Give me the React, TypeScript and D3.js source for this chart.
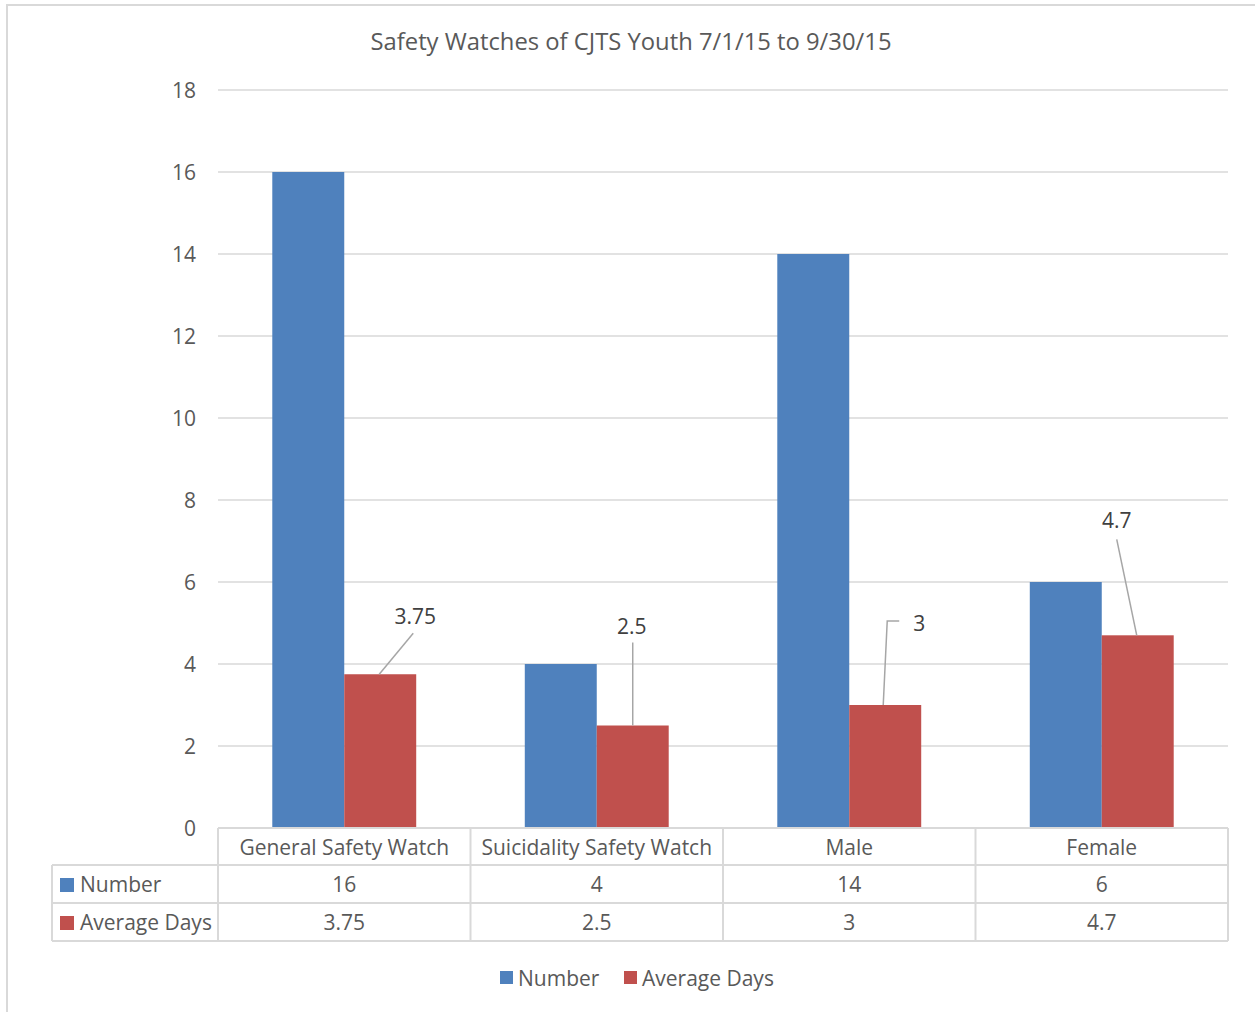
import React from "react";
import * as d3 from "d3";

const title = "Safety Watches of CJTS Youth 7/1/15 to 9/30/15";
const categories = ["General Safety Watch", "Suicidality Safety Watch", "Male", "Female"];
const seriesNames = ["Number", "Average Days"];
const numberValues = [16, 4, 14, 6];
const averageDaysValues = [3.75, 2.5, 3, 4.7];
const tableNumberLabels = ["16", "4", "14", "6"];
const tableAvgLabels = ["3.75", "2.5", "3", "4.7"];
const yTicks = [0, 2, 4, 6, 8, 10, 12, 14, 16, 18];
const colors = ["#4F81BD", "#C0504D"];

const FONT = "'Open Sans', 'Noto Sans', sans-serif";

export default function App() {
  const W = 1255, H = 1012;
  const left = 218, right = 1228, top = 90, bottom = 828;
  const y = d3.scaleLinear().domain([0, 18]).range([bottom, top]);
  const x0 = d3.scaleBand().domain(categories).range([left, right]).paddingInner(0).paddingOuter(0);
  const bw = x0.bandwidth();
  const barW = bw * 0.285;
  const tableLeft = 52;
  const rows = [bottom, bottom + 37, bottom + 75, bottom + 113];
  const fs = 21;

  return (
    <svg width={W} height={H} style={{ position: "absolute", left: 0, top: 0, background: "#fff" }} fontFamily={FONT}>
      <rect x={7} y={5} width={W + 10} height={H + 10} fill="#fff" stroke="#d9d9d9" strokeWidth={2} />
      <text x={631} y={50} textAnchor="middle" fontSize={23.8} fill="#595959">{title}</text>
      {yTicks.map((t) => (
        <g key={t}>
          <line x1={left} x2={right} y1={y(t)} y2={y(t)} stroke="#d9d9d9" strokeWidth={1.5} />
          <text x={196} y={y(t) + 7.5} textAnchor="end" fontSize={fs} fill="#595959">{t}</text>
        </g>
      ))}
      {categories.map((c, i) => {
        const cx = x0(c)! + bw / 2;
        return (
          <g key={c}>
            <rect x={cx - barW} y={y(numberValues[i])} width={barW} height={bottom - y(numberValues[i])} fill={colors[0]} />
            <rect x={cx} y={y(averageDaysValues[i])} width={barW} height={bottom - y(averageDaysValues[i])} fill={colors[1]} />
          </g>
        );
      })}
      {categories.map((c, i) => {
        const cx = x0(c)! + bw / 2;
        const bx = cx + barW / 2;
        const by = y(averageDaysValues[i]);
        let lx = bx, ly = by;
        let path = "";
        if (i === 0) {
          lx = bx + 35; ly = by - 58;
          path = `M${bx - 1},${by} L${bx + 33},${by - 41}`;
        } else if (i === 1) {
          lx = bx - 1; ly = by - 100;
          path = `M${bx},${by} L${bx},${by - 83}`;
        } else if (i === 2) {
          lx = bx + 34; ly = by - 82;
          path = `M${bx - 2},${by} L${bx + 2},${by - 84} L${bx + 14},${by - 84}`;
        } else {
          lx = bx - 21; ly = by - 115;
          path = `M${bx - 1},${by} L${bx - 21},${by - 96}`;
        }
        return (
          <g key={"lbl" + c}>
            <path d={path} stroke="#a6a6a6" strokeWidth={1.5} fill="none" />
            <text x={lx} y={ly + 8} textAnchor="middle" fontSize={fs} fill="#404040">{tableAvgLabels[i]}</text>
          </g>
        );
      })}
      <g stroke="#d9d9d9" strokeWidth={2} fill="none">
        <line x1={left} x2={right} y1={rows[0]} y2={rows[0]} />
        <line x1={tableLeft} x2={right} y1={rows[1]} y2={rows[1]} />
        <line x1={tableLeft} x2={right} y1={rows[2]} y2={rows[2]} />
        <line x1={tableLeft} x2={right} y1={rows[3]} y2={rows[3]} />
        <line x1={tableLeft} x2={tableLeft} y1={rows[1]} y2={rows[3]} />
        {categories.map((c) => (
          <line key={"v" + c} x1={x0(c)!} x2={x0(c)!} y1={rows[0]} y2={rows[3]} />
        ))}
        <line x1={right} x2={right} y1={rows[0]} y2={rows[3]} />
      </g>
      {categories.map((c, i) => {
        const cx = x0(c)! + bw / 2;
        return (
          <g key={"t" + c} fontSize={fs} fill="#595959" textAnchor="middle">
            <text x={cx} y={rows[0] + 26.5}>{c}</text>
            <text x={cx} y={rows[1] + 26.5}>{tableNumberLabels[i]}</text>
            <text x={cx} y={rows[2] + 26.5}>{tableAvgLabels[i]}</text>
          </g>
        );
      })}
      {seriesNames.map((s, i) => (
        <g key={"rl" + s}>
          <rect x={60} y={rows[i + 1] + 13} width={14} height={14} fill={colors[i]} />
          <text x={80} y={rows[i + 1] + 26.5} fontSize={fs} fill="#595959">{s}</text>
        </g>
      ))}
      <g>
        <rect x={500} y={971} width={13} height={13} fill={colors[0]} />
        <text x={518} y={985.5} fontSize={fs} fill="#595959">{seriesNames[0]}</text>
        <rect x={624} y={971} width={13} height={13} fill={colors[1]} />
        <text x={642} y={985.5} fontSize={fs} fill="#595959">{seriesNames[1]}</text>
      </g>
    </svg>
  );
}
